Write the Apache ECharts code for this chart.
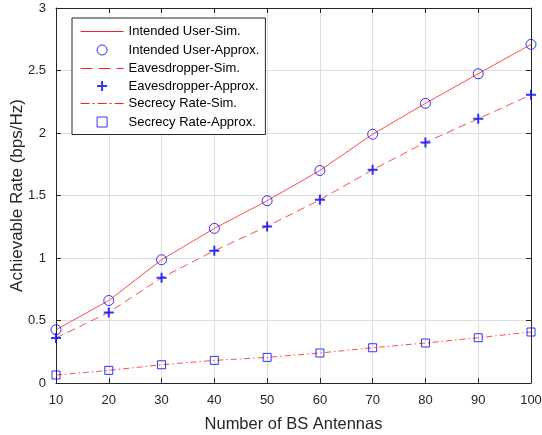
<!DOCTYPE html>
<html>
<head>
<meta charset="utf-8">
<script src="https://cdn.jsdelivr.net/npm/echarts@6/dist/echarts.min.js"></script>
<style>html,body{margin:0;padding:0;background:#fff}#c{width:542px;height:435px}</style>
</head>
<body>
<div id="c"></div>
<script>
const antennas = [10, 20, 30, 40, 50, 60, 70, 80, 90, 100];
const intendedSim = [0.426, 0.660, 0.986, 1.237, 1.458, 1.700, 1.990, 2.237, 2.474, 2.709];
const intendedApprox = [0.426, 0.660, 0.986, 1.237, 1.458, 1.700, 1.990, 2.237, 2.474, 2.709];
const eavesSim = [0.360, 0.565, 0.842, 1.058, 1.253, 1.466, 1.706, 1.925, 2.114, 2.306];
const eavesApprox = [0.360, 0.565, 0.842, 1.058, 1.253, 1.466, 1.706, 1.925, 2.114, 2.306];
const secrecySim = [0.064, 0.101, 0.146, 0.181, 0.205, 0.240, 0.282, 0.320, 0.362, 0.408];
const secrecyApprox = [0.064, 0.101, 0.146, 0.181, 0.205, 0.240, 0.282, 0.320, 0.362, 0.408];
const seriesNames = ['Intended User-Sim.', 'Intended User-Approx.', 'Eavesdropper-Sim.', 'Eavesdropper-Approx.', 'Secrecy Rate-Sim.', 'Secrecy Rate-Approx.'];

const pair = (xs, ys) => xs.map((x, i) => [x, ys[i]]);
const FONT = 'Liberation Sans';
const TXT = '#262626';
const RED = '#ff2020';
const BLUE = '#0000ff';
const plusPath = 'path://M4,0H6V4H10V6H6V10H4V6H0V4H4Z';
const squarePath = 'path://M0,0H10V10H0Z';

const chart = echarts.init(document.getElementById('c'), null, {renderer: 'canvas'});
const axisCommon = {
  axisLine: {show: true, onZero: false, lineStyle: {color: TXT, width: 1}},
  axisTick: {show: true, inside: true, length: 5, lineStyle: {color: TXT, width: 1}},
};
const hideSym = {opacity: 0};
chart.setOption({
  animation: false,
  backgroundColor: '#fff',
  textStyle: {fontFamily: FONT, color: TXT},
  grid: {left: 56, right: 11, top: 8, bottom: 52, containLabel: false, outerBoundsMode: 'none'},
  legend: {
    orient: 'vertical', left: 72, top: 18,
    padding: [7, 6, 5, 8],
    itemWidth: 43, itemHeight: 10, itemGap: 4.5,
    backgroundColor: '#fff', borderColor: '#262626', borderWidth: 1,
    textStyle: {fontFamily: FONT, fontSize: 13, color: '#000'},
    itemStyle: {borderWidth: 1},
    lineStyle: {width: 1.2},
    data: [
      {name: seriesNames[0], itemStyle: hideSym, lineStyle: {color: RED, width: 1.2}},
      {name: seriesNames[1]},
      {name: seriesNames[2], itemStyle: hideSym, lineStyle: {color: RED, type: [12, 6], width: 1.2}},
      {name: seriesNames[3]},
      {name: seriesNames[4], itemStyle: hideSym, lineStyle: {color: RED, type: [9, 3, 2, 3], width: 1.2}},
      {name: seriesNames[5]}
    ]
  },
  xAxis: [
    Object.assign({
      type: 'value', min: 10, max: 100, interval: 10, position: 'bottom',
      name: 'Number of BS Antennas', nameLocation: 'middle', nameGap: 33, nameMoveOverlap: false,
      nameTextStyle: {fontFamily: FONT, fontSize: 16.5, color: TXT},
      axisLabel: {fontFamily: FONT, fontSize: 13, color: TXT, margin: 11},
      splitLine: {show: true, lineStyle: {color: '#dedede', width: 1}}
    }, axisCommon),
    Object.assign({
      type: 'value', min: 10, max: 100, interval: 10, position: 'top',
      axisLabel: {show: false}, splitLine: {show: false}
    }, axisCommon)
  ],
  yAxis: [
    Object.assign({
      type: 'value', min: 0, max: 3, interval: 0.5, position: 'left',
      name: 'Achievable Rate (bps/Hz)', nameLocation: 'middle', nameGap: 30, nameMoveOverlap: false,
      nameTextStyle: {fontFamily: FONT, fontSize: 17, color: TXT},
      axisLabel: {fontFamily: FONT, fontSize: 13, color: TXT, margin: 10},
      splitLine: {show: true, lineStyle: {color: '#dedede', width: 1}}
    }, axisCommon),
    Object.assign({
      type: 'value', min: 0, max: 3, interval: 0.5, position: 'right',
      axisLabel: {show: false}, splitLine: {show: false}
    }, axisCommon)
  ],
  series: [
    {name: seriesNames[0], type: 'line', data: pair(antennas, intendedSim), symbol: 'none',
     lineStyle: {color: RED, width: 0.8, type: 'solid'}, itemStyle: {color: RED}, z: 2},
    {name: seriesNames[1], type: 'scatter', data: pair(antennas, intendedApprox), symbol: 'circle', symbolSize: 10,
     itemStyle: {color: 'none', borderColor: BLUE, borderWidth: 1}, z: 3},
    {name: seriesNames[2], type: 'line', data: pair(antennas, eavesSim), symbol: 'none',
     lineStyle: {color: RED, width: 0.8, type: [8, 5]}, itemStyle: {color: RED}, z: 2},
    {name: seriesNames[3], type: 'scatter', data: pair(antennas, eavesApprox), symbol: plusPath, symbolSize: 10,
     itemStyle: {color: BLUE}, z: 3},
    {name: seriesNames[4], type: 'line', data: pair(antennas, secrecySim), symbol: 'none',
     lineStyle: {color: RED, width: 0.8, type: [6, 3, 1.5, 3]}, itemStyle: {color: RED}, z: 2},
    {name: seriesNames[5], type: 'scatter', data: pair(antennas, secrecyApprox), symbol: squarePath, symbolSize: 8,
     itemStyle: {color: 'none', borderColor: BLUE, borderWidth: 1}, z: 3}
  ]
});
</script>
</body>
</html>
